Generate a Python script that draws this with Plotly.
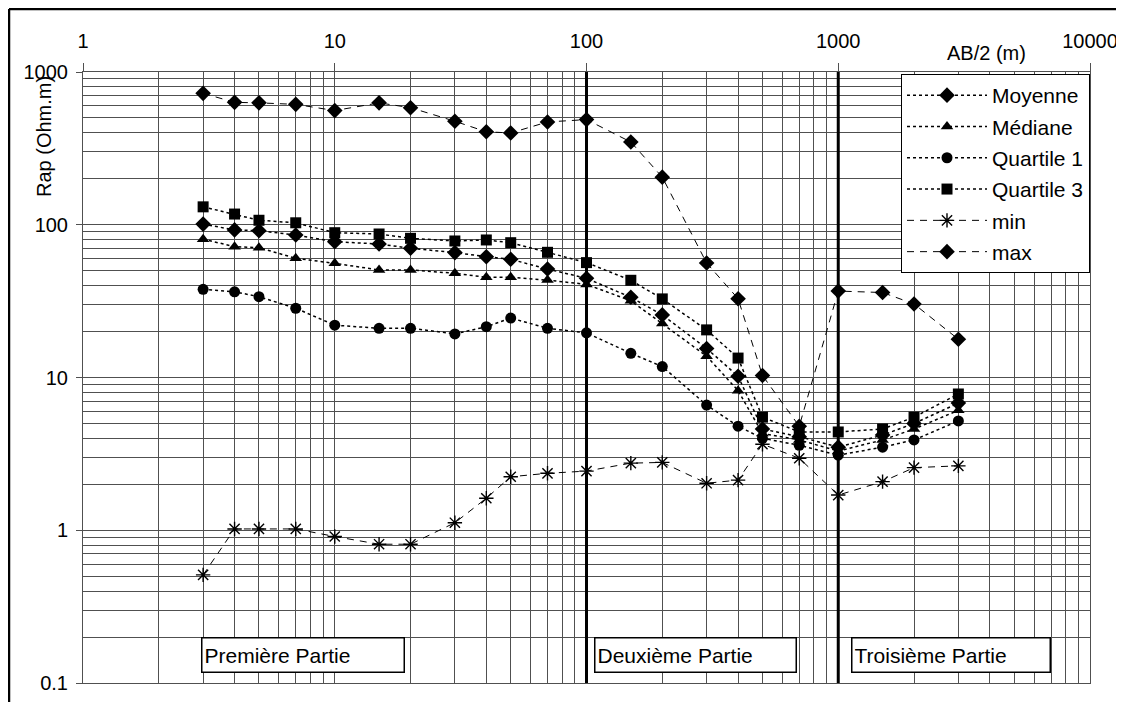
import plotly.graph_objects as go

# ---- data ----
ab2 = [3, 4, 5, 7, 10, 15, 20, 30, 40, 50, 70, 100, 150, 200, 300, 400, 500, 700, 1000, 1500, 2000, 3000]
moyenne = [101, 92.5, 91.4, 85.7, 77.5, 74.8, 70.2, 65.7, 61.8, 59.4, 51.3, 44.6,
           33.5, 25.7, 15.5, 10.2, 4.6, 4.1, 3.5, 4.2, 5.0, 6.8]
mediane = [80.4, 71.9, 70.8, 60.3, 55.9, 50.6, 50.6, 48.1, 45.3, 45.3, 43.4, 40.7,
           31.8, 22.6, 13.8, 8.2, 4.3, 3.9, 3.3, 3.9, 4.6, 6.1]
quartile1 = [37.8, 36.4, 33.8, 28.4, 22, 21, 21, 19.3, 21.5, 24.5, 21, 19.6,
             14.4, 11.8, 6.6, 4.8, 4.0, 3.6, 3.1, 3.5, 3.9, 5.2]
quartile3 = [131, 117.5, 107, 103, 88.7, 87, 81.5, 78.3, 79.5, 76.3, 66, 56.5,
             43.3, 32.7, 20.5, 13.4, 5.5, 4.4, 4.4, 4.6, 5.5, 7.8]
vmin = [0.51, 1.02, 1.02, 1.02, 0.91, 0.81, 0.81, 1.12, 1.62, 2.24, 2.36, 2.44,
        2.75, 2.78, 2.03, 2.13, 3.66, 2.96, 1.70, 2.08, 2.57, 2.64]
vmax = [725, 633, 628, 614, 559, 628, 584, 476, 406, 399, 471, 488,
        348, 205, 56.2, 32.8, 10.3, 4.8, 36.8, 36, 30.3, 17.8]

x_tick_vals = [1, 10, 100, 1000, 10000]
x_tick_text = ["1", "10", "100", "1000", "10000"]
y_tick_vals = [0.1, 1, 10, 100, 1000]
y_tick_text = ["0.1", "1", "10", "100", "1000"]
y_range = [0.1, 1000]

part_bounds = [100, 1000]
part_labels = ["Première Partie", "Deuxième Partie", "Troisième Partie"]

# ---- layout geometry (reference pixels); page body adds an 8px offset ----
W, H = 1124, 702
OFF = 8
L, R, T, B = 83, 1090, 72, 683
FONT = "Liberation Sans, Arial, sans-serif"
FS = 20
FS_BIG = 21
GRID = "#505050"


def px_x(p):
    return (p - L) / (R - L)


def px_y(p):
    return (B - p) / (B - T)


fig = go.Figure()

series = [
    ("Moyenne", moyenne, "diamond", 12),
    ("Médiane", mediane, "triangle-up", 11),
    ("Quartile 1", quartile1, "circle", 11),
    ("Quartile 3", quartile3, "square", 11),
]
for name, vals, sym, size in series:
    fig.add_trace(go.Scatter(
        x=ab2, y=vals, name=name, mode="lines+markers", legendgroup=name,
        line=dict(color="black", width=1.5, dash="dot"),
        marker=dict(symbol=sym, size=size, color="black"),
    ))

fig.add_trace(go.Scatter(
    x=ab2, y=vmin, name="min", mode="lines+markers", legendgroup="min",
    line=dict(color="black", width=1, dash="7px,6px"),
    marker=dict(symbol="asterisk-open", size=12, color="black",
                line=dict(color="black", width=1.4)),
))
fig.add_trace(go.Scatter(
    x=ab2, y=vmax, name="max", mode="lines+markers", legendgroup="max",
    line=dict(color="black", width=1, dash="7px,6px"),
    marker=dict(symbol="diamond", size=12, color="black"),
))

# thick separators between the three parts
for xb in part_bounds:
    fig.add_trace(go.Scatter(
        x=[xb, xb], y=y_range, mode="lines", showlegend=False, hoverinfo="skip",
        line=dict(color="black", width=3),
    ))

axis_common = dict(
    type="log", showgrid=True, gridcolor=GRID, gridwidth=1,
    minor=dict(dtick="D1", showgrid=True, gridcolor=GRID, gridwidth=1),
    ticks="outside", tickcolor=GRID, tickwidth=1,
    showline=True, linecolor=GRID, linewidth=1, mirror=True, zeroline=False,
    tickfont=dict(family=FONT, size=FS, color="black"),
    automargin=False,
)
fig.update_xaxes(range=[0, 4], side="top", tickvals=x_tick_vals, ticktext=x_tick_text,
                 ticklen=8, ticklabelstandoff=7, **axis_common)
fig.update_yaxes(range=[-1, 3], tickvals=y_tick_vals, ticktext=y_tick_text,
                 ticklen=6, ticklabelstandoff=4, **axis_common)

annotations = [
    dict(text="AB/2 (m)", x=px_x(986), y=px_y(53), xref="paper", yref="paper",
         showarrow=False, font=dict(family=FONT, size=FS, color="black"),
         xanchor="center", yanchor="middle"),
    dict(text="Rap (Ohm.m)", x=px_x(44), y=px_y(137), xref="paper", yref="paper",
         showarrow=False, textangle=-90, font=dict(family=FONT, size=FS, color="black"),
         xanchor="center", yanchor="middle"),
]
boxes = [(201, 406), (594, 798), (851, 1052)]
for (x0, x1), lab in zip(boxes, part_labels):
    annotations.append(dict(
        text=lab, x=px_x(x0), y=px_y(655), xref="paper", yref="paper",
        showarrow=False, xanchor="left", yanchor="middle", align="left",
        width=x1 - x0 - 8, height=29, borderpad=2,
        bordercolor="black", borderwidth=1.5, bgcolor="white",
        font=dict(family=FONT, size=FS_BIG, color="black"),
    ))

shapes = [
    dict(type="line", xref="paper", yref="paper", x0=px_x(9), x1=px_x(9), y0=px_y(9), y1=px_y(730),
         line=dict(color="black", width=2.5)),
    dict(type="line", xref="paper", yref="paper", x0=px_x(9), x1=px_x(1150), y0=px_y(9), y1=px_y(9),
         line=dict(color="black", width=2.5)),
]

fig.update_layout(
    width=W, height=H,
    margin=dict(l=L - OFF, r=W - (R - OFF), t=T - OFF, b=H - (B - OFF), autoexpand=False),
    paper_bgcolor="white", plot_bgcolor="white",
    font=dict(family=FONT, size=FS, color="black"),
    annotations=annotations, shapes=shapes,
    legend=dict(x=1, y=px_y(74), xanchor="right", yanchor="top", bgcolor="white",
                bordercolor="black", borderwidth=1, tracegroupgap=1, itemwidth=80,
                font=dict(family=FONT, size=FS_BIG, color="black")),
    hovermode=False,
)

fig.write_html("out.html")
